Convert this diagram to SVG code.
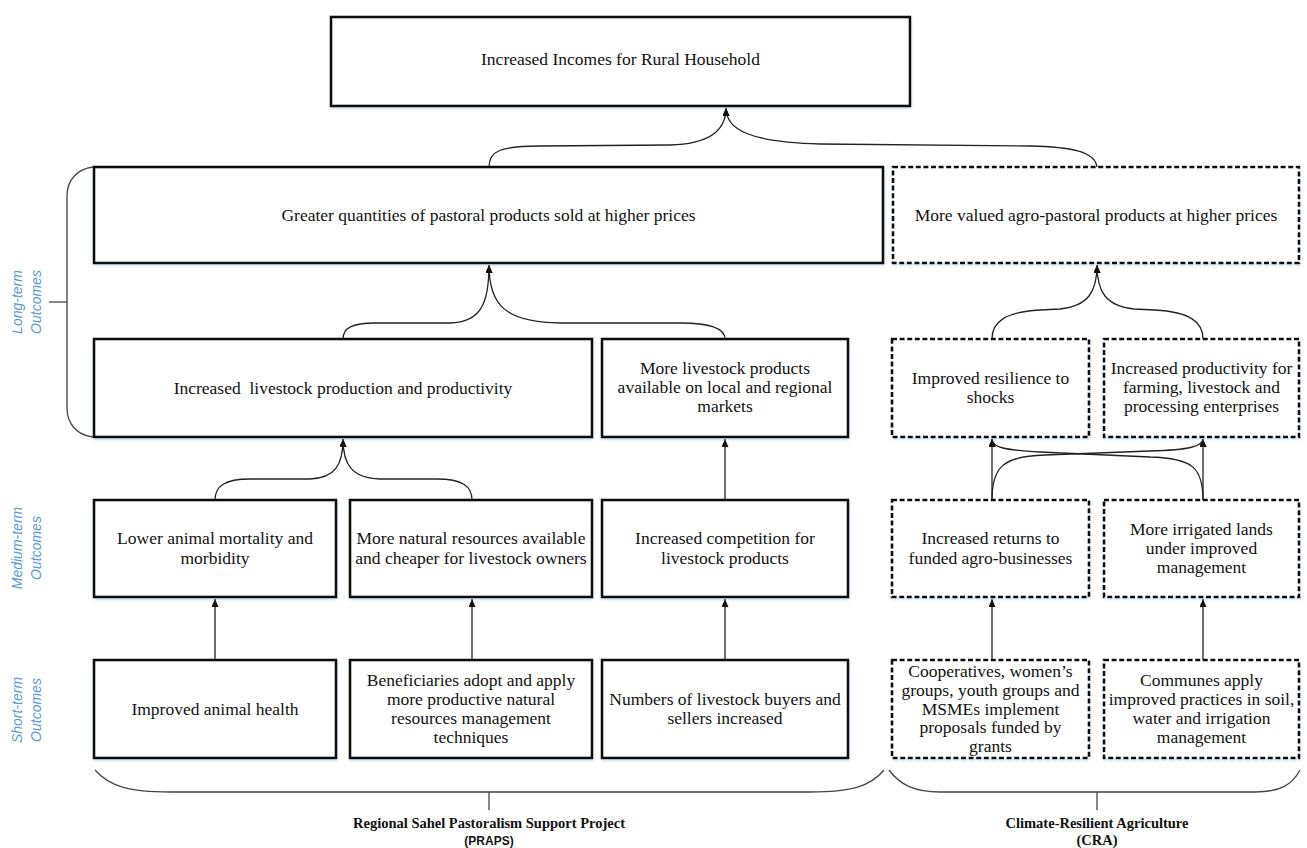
<svg xmlns="http://www.w3.org/2000/svg" width="1307" height="848" viewBox="0 0 1307 848">
<defs>
<filter id="sh" x="-5%" y="-5%" width="110%" height="120%">
<feDropShadow dx="0.5" dy="1.5" stdDeviation="1.2" flood-color="#8fb0d8" flood-opacity="0.45"/>
</filter>
<marker id="ah" markerUnits="userSpaceOnUse" markerWidth="8" markerHeight="7" refX="8" refY="3.5" orient="auto">
<path d="M0,0 L8,3.5 L0,7 z" fill="#111"/>
</marker>
<style>
.box{fill:#fff;stroke:#111;stroke-width:2.6;filter:url(#sh)}
.dbox{fill:#fff;stroke:#111;stroke-width:2.6;stroke-dasharray:5 2.6;filter:url(#sh)}
.t{font-family:'Liberation Serif','DejaVu Serif',serif;font-size:17.5px;fill:#111;text-anchor:middle}
.c{fill:none;stroke:#222;stroke-width:1.3;marker-end:url(#ah)}
.br{fill:none;stroke:#444;stroke-width:1.3}
.lbl{font-family:'Liberation Sans',Arial,sans-serif;font-style:italic;font-size:14px;fill:#5b9bd5;text-anchor:middle}
.bt{font-family:'Liberation Serif','DejaVu Serif',serif;font-weight:bold;font-size:14.5px;fill:#111;text-anchor:middle}
.bs{font-family:'Liberation Sans',Arial,sans-serif;font-weight:bold;font-size:12px;fill:#111;text-anchor:middle}
</style>
</defs>
<rect width="1307" height="848" fill="#fff"/>

<g id="connectors">
<path class="c" d="M489,167 C489,151 500,146 540,146 L670,145 C710,144 726,130 726,108"/>
<path class="c" d="M1097,167 C1095,151 1070,147 1030,146 L820,144 C750,142 726,130 726,108"/>
<path class="c" d="M343,339 C343,328 352,323 375,323 L450,323 C480,322 489,305 489,265"/>
<path class="c" d="M725,339 C725,328 710,323 680,323 L560,323 C505,322 489,305 489,265"/>
<path class="c" d="M992,339 C992,322 1005,312 1040,310 L1060,309 C1088,306 1097,292 1097,265"/>
<path class="c" d="M1203,339 C1203,322 1190,312 1155,310 L1134,309 C1106,306 1097,292 1097,265"/>
<path class="c" d="M215,500 C215,486 225,479 250,479 L310,479 C335,478 343,465 343,439"/>
<path class="c" d="M472,500 C472,486 462,479 437,479 L380,479 C352,478 343,465 343,439"/>
<path class="c" d="M725,500 L725,439"/>
<path class="c" d="M992,500 L992,439"/>
<path class="c" d="M1203,500 L1203,439"/>
<path class="c" d="M992,500 C992,468 1002,456 1045,455 L1150,451 C1190,450 1203,446 1203,439"/>
<path class="c" d="M1203,500 C1203,468 1193,458 1150,457 L1040,452 C1003,450 992,447 992,439"/>
<path class="c" d="M215,660 L215,599"/>
<path class="c" d="M472,660 L472,599"/>
<path class="c" d="M725,660 L725,599"/>
<path class="c" d="M992,660 L992,599"/>
<path class="c" d="M1203,660 L1203,599"/>
</g>

<g id="n-income"><rect class="box" x="331" y="17" width="579" height="89"/><text class="t" x="620.5" y="65">Increased Incomes for Rural Household</text></g>

<g id="n-greater"><rect class="box" x="94" y="167" width="789" height="96"/><text class="t" x="488.5" y="220.5">Greater quantities of pastoral products sold at higher prices</text></g>
<g id="n-valued"><rect class="dbox" x="893" y="167" width="406" height="96"/><text class="t" x="1096" y="220.5">More valued agro-pastoral products at higher prices</text></g>

<g id="n-livestock-prod"><rect class="box" x="94" y="339" width="498" height="98"/><text class="t" x="343" y="393.5" xml:space="preserve">Increased  livestock production and productivity</text></g>
<g id="n-livestock-markets"><rect class="box" x="602" y="339" width="246" height="98"/><text class="t" x="725"><tspan x="725" y="374">More livestock products</tspan><tspan x="725" y="393.2">available on local and regional</tspan><tspan x="725" y="412.4">markets</tspan></text></g>
<g id="n-resilience"><rect class="dbox" x="892" y="339" width="197" height="98"/><text class="t"><tspan x="990.5" y="383.8">Improved resilience to</tspan><tspan x="990.5" y="403">shocks</tspan></text></g>
<g id="n-productivity"><rect class="dbox" x="1104" y="339" width="195" height="98"/><text class="t"><tspan x="1201.5" y="374">Increased productivity for</tspan><tspan x="1201.5" y="393.2">farming, livestock and</tspan><tspan x="1201.5" y="412.4">processing enterprises</tspan></text></g>

<g id="n-mortality"><rect class="box" x="94" y="500" width="242" height="97"/><text class="t"><tspan x="215" y="544.4">Lower animal mortality and</tspan><tspan x="215" y="563.6">morbidity</tspan></text></g>
<g id="n-natural"><rect class="box" x="350" y="500" width="242" height="97"/><text class="t"><tspan x="471" y="544.4">More natural resources available</tspan><tspan x="471" y="563.6">and cheaper for livestock owners</tspan></text></g>
<g id="n-competition"><rect class="box" x="602" y="500" width="246" height="97"/><text class="t"><tspan x="725" y="544.4">Increased competition for</tspan><tspan x="725" y="563.6">livestock products</tspan></text></g>
<g id="n-returns"><rect class="dbox" x="892" y="500" width="197" height="97"/><text class="t"><tspan x="990.5" y="544.4">Increased returns to</tspan><tspan x="990.5" y="563.6">funded agro-businesses</tspan></text></g>
<g id="n-irrigated"><rect class="dbox" x="1104" y="500" width="195" height="97"/><text class="t"><tspan x="1201.5" y="534.8">More irrigated lands</tspan><tspan x="1201.5" y="554">under improved</tspan><tspan x="1201.5" y="573.2">management</tspan></text></g>

<g id="n-health"><rect class="box" x="94" y="660" width="242" height="98"/><text class="t" x="215" y="714.5">Improved animal health</text></g>
<g id="n-beneficiaries"><rect class="box" x="350" y="660" width="242" height="98"/><text class="t"><tspan x="471" y="685.7">Beneficiaries adopt and apply</tspan><tspan x="471" y="704.9">more productive natural</tspan><tspan x="471" y="724.1">resources management</tspan><tspan x="471" y="743.3">techniques</tspan></text></g>
<g id="n-numbers"><rect class="box" x="602" y="660" width="246" height="98"/><text class="t"><tspan x="725" y="704.9">Numbers of livestock buyers and</tspan><tspan x="725" y="724.1">sellers increased</tspan></text></g>
<g id="n-cooperatives"><rect class="dbox" x="892" y="660" width="197" height="98"/><text class="t"><tspan x="990.5" y="677">Cooperatives, women’s</tspan><tspan x="990.5" y="695.8">groups, youth groups and</tspan><tspan x="990.5" y="714.6">MSMEs implement</tspan><tspan x="990.5" y="733.4">proposals funded by</tspan><tspan x="990.5" y="752.2">grants</tspan></text></g>
<g id="n-communes"><rect class="dbox" x="1104" y="660" width="195" height="98"/><text class="t"><tspan x="1201.5" y="685.7">Communes apply</tspan><tspan x="1201.5" y="704.9">improved practices in soil,</tspan><tspan x="1201.5" y="724.1">water and irrigation</tspan><tspan x="1201.5" y="743.3">management</tspan></text></g>

<g id="labels">
<path class="br" d="M93,167 C77,169 67,180 67,196 L67,408 C67,424 77,435 93,437"/>
<path class="br" d="M49,302 L67,302"/>
<text class="lbl" transform="translate(0,302) rotate(-90)"><tspan x="0" y="22">Long-term</tspan><tspan x="0" y="41">Outcomes</tspan></text>
<text class="lbl" transform="translate(0,548) rotate(-90)"><tspan x="0" y="22">Medium-term</tspan><tspan x="0" y="41">Outcomes</tspan></text>
<text class="lbl" transform="translate(0,710) rotate(-90)"><tspan x="0" y="22">Short-term</tspan><tspan x="0" y="41">Outcomes</tspan></text>
<path class="br" d="M95,770 C110,787 130,792 170,792 L810,792 C850,792 870,787 884,770"/>
<path class="br" d="M489,792 L489,810"/>
<text class="bt" x="489" y="828">Regional Sahel Pastoralism Support Project</text>
<text class="bs" x="489" y="845">(PRAPS)</text>
<path class="br" d="M889,770 C900,785 915,792 940,792 L1255,792 C1280,792 1292,785 1300,770"/>
<path class="br" d="M1097,792 L1097,810"/>
<text class="bt" x="1097" y="828">Climate-Resilient Agriculture</text>
<text class="bt" x="1097" y="845">(CRA)</text>
</g>
</svg>
